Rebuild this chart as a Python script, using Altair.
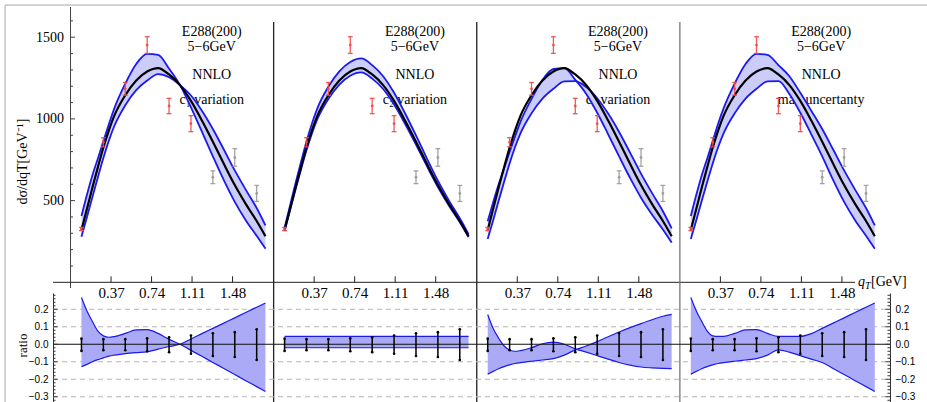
import altair as alt
import pandas as pd

# ---------------- data ----------------
qT_grid = [0.10, 0.15, 0.20, 0.25, 0.30, 0.35, 0.40, 0.50, 0.60, 0.70, 0.80,
           0.90, 1.00, 1.10, 1.20, 1.30, 1.40, 1.50, 1.60, 1.70, 1.78]
central_xsec = [320, 450, 580, 705, 825, 930, 1020, 1145, 1235, 1290, 1311,
                1272, 1207, 1110, 990, 860, 725, 595, 480, 375, 282]

# relative band edges (ratio to the central curve) per panel
c1_a = [0.267, 0.19, 0.13, 0.075, 0.048, 0.040, 0.044, 0.062, 0.082, 0.084, 0.062,
        0.028, 0.0, -0.035, -0.069, -0.104, -0.138, -0.173, -0.208, -0.242, -0.270]
c1_b = [-0.128, -0.115, -0.100, -0.088, -0.078, -0.068, -0.062, -0.054, -0.048, -0.043, -0.028,
        -0.013, 0.0, 0.030, 0.061, 0.091, 0.121, 0.151, 0.182, 0.212, 0.236]
c2_a = [0.045, 0.045, 0.045, 0.045, 0.045, 0.045, 0.045, 0.045, 0.045, 0.045, 0.045,
        0.045, 0.045, 0.045, 0.045, 0.045, 0.045, 0.045, 0.045, 0.045, 0.045]
c2_b = [-0.02, -0.02, -0.02, -0.02, -0.02, -0.02, -0.02, -0.02, -0.02, -0.02, -0.02,
        -0.02, -0.02, -0.02, -0.02, -0.02, -0.02, -0.02, -0.02, -0.02, -0.02]
c3_a = [0.17, 0.09, 0.035, -0.01, -0.033, -0.04, -0.036, -0.02, 0.003, 0.012, 0.0,
        -0.026, -0.045, -0.065, -0.085, -0.104, -0.119, -0.13, -0.135, -0.138, -0.139]
c3_b = [-0.171, -0.155, -0.14, -0.128, -0.118, -0.11, -0.105, -0.097, -0.09, -0.082, -0.062,
        -0.032, -0.01, 0.015, 0.043, 0.07, 0.095, 0.118, 0.14, 0.16, 0.171]
max_up = [0.267, 0.19, 0.13, 0.075, 0.048, 0.045, 0.045, 0.062, 0.082, 0.084, 0.062,
          0.045, 0.045, 0.045, 0.061, 0.091, 0.121, 0.151, 0.182, 0.212, 0.236]
max_dn = [-0.171, -0.155, -0.14, -0.128, -0.118, -0.11, -0.105, -0.097, -0.09, -0.082, -0.062,
          -0.032, -0.045, -0.065, -0.085, -0.104, -0.138, -0.173, -0.208, -0.242, -0.270]

panel_labels = ["c\u2081 variation", "c\u2082 variation", "c\u2083 variation", "max uncertanty"]
header_lines = ["E288(200)", "5\u22126GeV", "NNLO"]

data_qT = [0.1, 0.3, 0.5, 0.7, 0.9, 1.1, 1.3, 1.5, 1.7]
data_xsec = [326, 857, 1184, 1452, 1079, 971, 643, 764, 544]
data_err = [10, 28, 39, 51, 47, 49, 39, 54, 49]
data_group = ["fit", "fit", "fit", "fit", "fit", "fit", "excluded", "excluded", "excluded"]
ratio_err_up = [0.032, 0.029, 0.029, 0.034, 0.040, 0.050, 0.063, 0.069, 0.086]
ratio_err_dn = [0.038, 0.034, 0.034, 0.040, 0.045, 0.054, 0.067, 0.073, 0.090]

x_tick_labels = [0.37, 0.74, 1.11, 1.48]
y_major = [500, 1000, 1500]
y_minor = [100, 200, 300, 400, 600, 700, 800, 900, 1100, 1200, 1300, 1400, 1600]
ratio_major = [-0.3, -0.2, -0.1, 0.0, 0.1, 0.2]
ratio_minor = [-0.32, -0.28, -0.26, -0.24, -0.22, -0.18, -0.16, -0.14, -0.12,
               -0.08, -0.06, -0.04, -0.02, 0.02, 0.04, 0.06, 0.08,
               0.12, 0.14, 0.16, 0.18, 0.22, 0.24, 0.26, 0.28]
ratio_grid = [-0.3, -0.2, -0.1, 0.1, 0.2]

# ---------------- layout constants ----------------
PANEL = 1.855            # width of one panel in qT units
X_MIN, X_MAX = -0.16, 7.484
W, H = 837, 395
TOP_DOM = [0, 1685]
TOP_RANGE = [275.3, 0]
RAT_DOM = [-0.33, 0.293]
RAT_RANGE = [395, 286]
TEXT_X = 1.29
TEXT_Y = [1529, 1440, 1269, 1115]
FRAME_X = -0.598         # outer figure frame (left)
FRAME_T = 1697           # outer figure frame (top)

SERIF = "Liberation Serif"
SANS = "Liberation Sans"
BLUE = "#1a1aee"
TOP_FILL = "#ccccf8"
BOT_FILL = "#aaaaf7"
RED = "#ee4848"
GRAY = "#9a9a9a"

# ---------------- tables ----------------
ratio_sets = [(c1_a, c1_b), (c2_a, c2_b), (c3_a, c3_b), (max_up, max_dn)]
curve_rows = []
for p, (ra, rb) in enumerate(ratio_sets):
    for q, c, a, b in zip(qT_grid, central_xsec, ra, rb):
        curve_rows.append(dict(panel=p, gx=p * PANEL + q, central=c, ra=a, rb=b))
curves_df = pd.DataFrame(curve_rows)

pt_rows = []
for p in range(4):
    for q, v, e, g, ru, rd in zip(data_qT, data_xsec, data_err, data_group, ratio_err_up, ratio_err_dn):
        pt_rows.append(dict(panel=p, gx=p * PANEL + q, xsec=v, err=e, group=g, rup=ru, rdn=rd))
pts_df = pd.DataFrame(pt_rows)

text_rows = []
for p in range(4):
    for t, yv in zip(header_lines + [panel_labels[p]], TEXT_Y):
        text_rows.append(dict(gx=p * PANEL + TEXT_X, y=yv, text=t))
text_df = pd.DataFrame(text_rows)

# ---------------- scales / axes ----------------
xs = alt.Scale(domain=[X_MIN, X_MAX], nice=False, zero=False)
x_values = [round(p * PANEL + v, 4) for p in range(4) for v in x_tick_labels]
x_axis = alt.Axis(orient="bottom", offset=-(H - TOP_RANGE[0]), values=x_values,
                  labelExpr=f"format(datum.value - floor((datum.value + 0.01) / {PANEL}) * {PANEL}, '.2f')",
                  domain=False, ticks=False, tickSize=0, grid=False, labelFont=SERIF, labelFontSize=15,
                  labelColor="black", labelPadding=3, labelFlush=False, labelOverlap=False, title=None)

yt_scale = alt.Scale(domain=TOP_DOM, range=TOP_RANGE, nice=False, zero=False)
yt_axis = alt.Axis(orient="left", offset=-17.5, values=y_major, format="d", domain=False,
                   ticks=False, tickSize=0, grid=False, labelFont=SERIF, labelFontSize=14,
                   labelColor="black", labelPadding=7,
                   title="d\u03c3/dqT[GeV\u207b\u00b9]", titleFont=SERIF, titleFontSize=14,
                   titleFontWeight="normal", titleColor="black", titleAngle=270,
                   titleX=-48.5, titleY=154, titleBaseline="middle", titleAlign="center")

yr_scale = alt.Scale(domain=RAT_DOM, range=RAT_RANGE, nice=False, zero=False)
yr_axis_left = alt.Axis(orient="left", values=ratio_major, format=".1f", domain=True,
                        domainColor="#333", ticks=False, tickSize=0, grid=False, labelFont=SANS,
                        labelFontSize=10, labelColor="black", labelPadding=5,
                        title="ratio", titleFont=SERIF, titleFontSize=13, titleFontWeight="normal",
                        titleColor="black", titleAngle=270, titleX=-31, titleY=338,
                        titleBaseline="middle", titleAlign="center")
yr_axis_right = alt.Axis(orient="right", values=ratio_major, format=".1f", domain=True,
                         domainColor="#333", ticks=False, tickSize=0, grid=False, labelFont=SANS,
                         labelFontSize=10, labelColor="black", labelPadding=5, title=None)


def X(f="gx"):
    return alt.X(f"{f}:Q", scale=xs, axis=x_axis)


def YT(f):
    return alt.Y(f"{f}:Q", scale=yt_scale, axis=yt_axis)


def YR(f):
    return alt.Y(f"{f}:Q", scale=yr_scale, axis=yr_axis_left)


def YRR(f):
    return alt.Y(f"{f}:Q", scale=yr_scale, axis=yr_axis_right)


color_enc = alt.Color("group:N", scale=alt.Scale(domain=["fit", "excluded"], range=[RED, GRAY]), legend=None)

# ---------------- top panels ----------------
texts = alt.Chart(text_df).mark_text(font=SERIF, fontSize=14, color="black", align="center",
                                     baseline="middle").encode(x=X(), y=YT("y"), text="text:N")

base_c = alt.Chart(curves_df).transform_calculate(
    up="datum.central * (1 + datum.ra)", lo="datum.central * (1 + datum.rb)")
band_top = base_c.mark_area(color=TOP_FILL, opacity=1, interpolate="monotone").encode(
    x=X(), y=YT("up"), y2="lo", detail="panel:N")
line_up = base_c.mark_line(color=BLUE, strokeWidth=1.8, interpolate="monotone").encode(
    x=X(), y=YT("up"), detail="panel:N")
line_lo = base_c.mark_line(color=BLUE, strokeWidth=1.8, interpolate="monotone").encode(
    x=X(), y=YT("lo"), detail="panel:N")
line_c = base_c.mark_line(color="black", strokeWidth=2.2, interpolate="monotone").encode(
    x=X(), y=YT("central"), detail="panel:N")

CAP = 0.022
base_p = alt.Chart(pts_df).transform_calculate(
    hi="datum.xsec + datum.err", lo="datum.xsec - datum.err",
    cl=f"datum.gx - {CAP}", cr=f"datum.gx + {CAP}")
err_bar = base_p.mark_rule(strokeWidth=1.3, opacity=0.9).encode(x=X(), y=YT("lo"), y2="hi", color=color_enc)
cap_hi = base_p.mark_rule(strokeWidth=1.3, opacity=0.9).encode(x=X("cl"), x2="cr", y=YT("hi"), color=color_enc)
cap_lo = base_p.mark_rule(strokeWidth=1.3, opacity=0.9).encode(x=X("cl"), x2="cr", y=YT("lo"), color=color_enc)
dots = base_p.mark_circle(size=8, opacity=0.9).encode(x=X(), y=YT("xsec"), color=color_enc)

yline = alt.Chart(pd.DataFrame({"gx": [0.0], "y1": [-35.0], "y2": [float(TOP_DOM[1])]})).mark_rule(
    color="#444", strokeWidth=1).encode(x=X(), y=YT("y1"), y2="y2")
xline = alt.Chart(pd.DataFrame({"gx": [X_MIN], "gx2": [7.165], "y": [0.0]})).mark_rule(
    color="#222", strokeWidth=1).encode(x=X(), x2="gx2", y=YT("y"))

ytick_df = pd.DataFrame([dict(gx=0.0, gx2=0.041, y=v) for v in y_major] +
                        [dict(gx=0.0, gx2=0.023, y=v) for v in y_minor])
yticks = alt.Chart(ytick_df).mark_rule(color="#444", strokeWidth=1).encode(x=X(), x2="gx2", y=YT("y"))

xtick_df = pd.DataFrame([dict(gx=round(p * PANEL + v, 4), y=0.0, y2=36.7) for p in range(4) for v in x_tick_labels])
xticks = alt.Chart(xtick_df).mark_rule(color="#222", strokeWidth=1).encode(x=X(), y=YT("y"), y2="y2")

sep_dark = alt.Chart(pd.DataFrame({"gx": [PANEL, 2 * PANEL], "y": [1593.0, 1593.0], "y2": [-735.0, -735.0]})).mark_rule(
    color="#222", strokeWidth=1.3).encode(x=X(), y=YT("y"), y2="y2")
sep_gray = alt.Chart(pd.DataFrame({"gx": [3 * PANEL], "y": [1593.0], "y2": [-735.0]})).mark_rule(
    color="#777", strokeWidth=1.3).encode(x=X(), y=YT("y"), y2="y2")

frame_top = alt.Chart(pd.DataFrame({"gx": [FRAME_X], "gx2": [7.85], "y": [float(FRAME_T)]})).mark_rule(
    color="#a8a8a8", strokeWidth=1).encode(x=X(), x2="gx2", y=YT("y"))
frame_left = alt.Chart(pd.DataFrame({"gx": [FRAME_X], "y": [float(FRAME_T)], "y2": [-735.0]})).mark_rule(
    color="#a8a8a8", strokeWidth=1).encode(x=X(), y=YT("y"), y2="y2")

qlab_df = pd.DataFrame({"gx": [7.192], "y": [0.0]})
qlab1 = alt.Chart(qlab_df).mark_text(text="q", font=SERIF, fontSize=14, fontStyle="italic", align="left",
                                     baseline="middle", color="black").encode(x=X(), y=YT("y"))
qlab2 = alt.Chart(qlab_df).mark_text(text="T", font=SERIF, fontSize=10, fontStyle="italic", align="left",
                                     baseline="middle", dx=7, dy=4, color="black").encode(x=X(), y=YT("y"))
qlab3 = alt.Chart(qlab_df).mark_text(text="[GeV]", font=SERIF, fontSize=14, align="left",
                                     baseline="middle", dx=13, color="black").encode(x=X(), y=YT("y"))

top = alt.layer(frame_top, frame_left, texts, band_top, line_up, line_lo, line_c, err_bar, cap_hi, cap_lo, dots,
                yline, xline, yticks, xticks, sep_dark, sep_gray, qlab1, qlab2, qlab3)

# ---------------- ratio panels ----------------
grid = alt.Chart(pd.DataFrame({"gx": [X_MIN] * len(ratio_grid), "gx2": [X_MAX] * len(ratio_grid), "y": ratio_grid})).mark_rule(
    color="#b5b5b5", strokeDash=[5, 4], strokeWidth=1).encode(x=X(), x2="gx2", y=YR("y"))
band_bot = alt.Chart(curves_df).mark_area(color=BOT_FILL, opacity=1, interpolate="monotone").encode(
    x=X(), y=YR("ra"), y2="rb", detail="panel:N")
rline_a = alt.Chart(curves_df).mark_line(color=BLUE, strokeWidth=1.2, interpolate="monotone").encode(
    x=X(), y=YR("ra"), detail="panel:N")
rline_b = alt.Chart(curves_df).mark_line(color=BLUE, strokeWidth=1.2, interpolate="monotone").encode(
    x=X(), y=YR("rb"), detail="panel:N")
zero = alt.Chart(pd.DataFrame({"gx": [X_MIN], "gx2": [X_MAX], "y": [0.0]})).mark_rule(
    color="#111", strokeWidth=1.2).encode(x=X(), x2="gx2", y=YR("y"))
base_r = alt.Chart(pts_df).transform_calculate(rhi="datum.rup", rlo="-datum.rdn")
rbar = base_r.mark_rule(color="black", strokeWidth=1.5).encode(x=X(), y=YR("rlo"), y2="rhi")
rdot_hi = base_r.mark_circle(color="black", size=7, opacity=1).encode(x=X(), y=YR("rhi"))
rdot_lo = base_r.mark_circle(color="black", size=7, opacity=1).encode(x=X(), y=YR("rlo"))
lt_df = pd.DataFrame([dict(gx=X_MIN, gx2=X_MIN + 0.041, y=v) for v in ratio_major] +
                     [dict(gx=X_MIN, gx2=X_MIN + 0.023, y=v) for v in ratio_minor])
lticks = alt.Chart(lt_df).mark_rule(color="#333", strokeWidth=1).encode(x=X(), x2="gx2", y=YR("y"))

bottom = alt.layer(grid, band_bot, rline_a, rline_b, zero, rbar, rdot_hi, rdot_lo, lticks)

rt_df = pd.DataFrame([dict(gx=X_MAX - 0.041, gx2=X_MAX, y=v) for v in ratio_major] +
                     [dict(gx=X_MAX - 0.023, gx2=X_MAX, y=v) for v in ratio_minor])
right = alt.Chart(rt_df).mark_rule(color="#333", strokeWidth=1).encode(x=X(), x2="gx2", y=YRR("y"))

chart = alt.layer(top, bottom, right).resolve_scale(y="independent").properties(
    width=W, height=H,
    autosize=alt.AutoSizeParams(type="none"),
    padding={"left": 53, "top": 7, "right": 37, "bottom": 0},
).configure_view(stroke=None)

chart.save("out.html", embed_options={"renderer": "svg", "actions": False})
